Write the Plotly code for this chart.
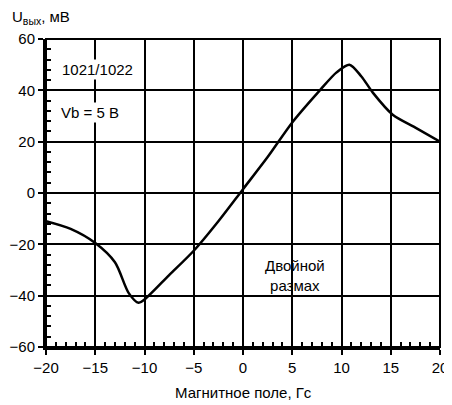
import plotly.graph_objects as go

field_gs = [-20, -17.5, -15, -13, -11.6, -10.6, -10, -7.5, -5, -2.5, 0, 2.5, 5, 7.8, 9.5, 10.8, 12, 13.2, 15.2, 17.5, 20]
u_out_mv = [-11, -14, -19.5, -27, -39, -42.8, -41.5, -32, -22.5, -11, 1.5, 14, 27.5, 40, 47, 50, 45.5, 39, 30.5, 25.5, 20]

x_ticks = [-20, -15, -10, -5, 0, 5, 10, 15, 20]
y_ticks = [-60, -40, -20, 0, 20, 40, 60]

font = "Liberation Sans, Arial, sans-serif"

fig = go.Figure()
fig.add_trace(go.Scatter(x=field_gs, y=u_out_mv, mode="lines",
                         line=dict(color="black", width=2.5, shape="spline", smoothing=0.8),
                         showlegend=False, hoverinfo="skip"))

axis_common = dict(showgrid=True, gridcolor="black", gridwidth=2,
                   showline=True, linecolor="black", linewidth=3,
                   ticks="outside", ticklen=5, tickwidth=1.5, tickcolor="black",
                   tickfont=dict(family=font, size=15, color="black"),
                   zeroline=False, automargin=False)

fig.update_xaxes(range=[-20, 20], tickvals=x_ticks, **axis_common,
                 minor=dict(dtick=1, ticks="inside", ticklen=5, tickwidth=1.5, tickcolor="black", showgrid=False))
fig.update_yaxes(range=[-60, 60], tickvals=y_ticks, **axis_common,
                 minor=dict(dtick=4, ticks="inside", ticklen=5, tickwidth=1.5, tickcolor="black", showgrid=False))

fig.add_shape(type="rect", xref="paper", yref="paper", x0=0, x1=1, y0=0, y1=1,
              line=dict(color="black", width=2), layer="above")

ann = dict(showarrow=False, font=dict(family=font, size=15, color="black"))
fig.add_annotation(x=-14.8, y=48, text="1021/1022", bgcolor="white", **ann)
fig.add_annotation(x=-15.5, y=31.5, text="Vb = 5 В", bgcolor="white", **ann)
fig.add_annotation(x=5.3, y=-32, text="Двойной<br>размах", **ann)
fig.add_annotation(xref="paper", yref="paper", x=-0.092, y=1.071, xanchor="left", yanchor="middle",
                   text="U<sub>вых</sub>, мВ", **ann)
fig.add_annotation(xref="paper", yref="paper", x=0.5, y=-0.149, xanchor="center", yanchor="middle",
                   text="Магнитное поле, Гс", **ann)

# page body has an 8px margin, so the figure is offset by 8px
fig.update_layout(width=444, height=397, margin=dict(l=38, r=12, t=31, b=58),
                  plot_bgcolor="white", paper_bgcolor="white")

fig.write_html("out.html")
